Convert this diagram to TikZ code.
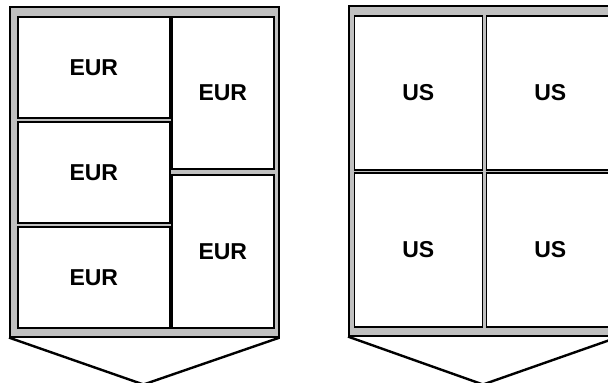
\documentclass[tikz,border=0pt]{standalone}
\usepackage{fontspec}
\usepackage{tikz}
\usetikzlibrary{positioning}
\newfontfamily\boxfont{Liberation Sans}
\definecolor{palletgray}{HTML}{C0C0C0}

\begin{document}
\begin{tikzpicture}[
  x=1pt,y=-1pt,
  pallet/.style={draw=black,fill=palletgray,line width=1.6pt,anchor=north west,inner sep=0pt},
  box/.style={draw=black,fill=white,line width=1.6pt,anchor=north west,inner sep=0pt,align=center,font=\boxfont\bfseries\fontsize{23}{23}\selectfont},
  leg/.style={draw=black,line width=2.4pt}
]
\useasboundingbox (0,0) rectangle (608,385);
\clip (0,0) rectangle (608,382);
% left pallet, EUR layout
\node[pallet,minimum width=269pt,minimum height=330pt] (eurpallet) at (9,6) {};
\node[box,minimum width=152pt,minimum height=101pt] (eurA) at (17,16) {EUR};
\node[box,minimum width=152pt,minimum height=101pt] (eurB) at (17,121) {EUR};
\node[box,minimum width=152pt,minimum height=101pt] (eurC) at (17,226) {EUR};
\node[box,minimum width=102pt,minimum height=152pt] (eurD) at (171,16) {EUR};
\node[box,minimum width=102pt,minimum height=153pt] (eurE) at (171,174) {EUR};
\coordinate (eurtip) at (143.5,384.5);
\draw[leg] (eurpallet.south west) -- (eurtip);
\draw[leg] (eurpallet.south east) -- (eurtip);
% right pallet, US layout
\node[pallet,minimum width=270pt,minimum height=330pt] (uspallet) at (348,5) {};
\node[box,minimum width=128pt,minimum height=154pt] (usA) at (353.5,15) {US};
\node[box,minimum width=128pt,minimum height=154pt] (usB) at (485.5,15) {US};
\node[box,minimum width=128pt,minimum height=154pt] (usC) at (353.5,172) {US};
\node[box,minimum width=128pt,minimum height=154pt] (usD) at (485.5,172) {US};
\coordinate (ustip) at (483,384.5);
\draw[leg] (uspallet.south west) -- (ustip);
\draw[leg] (uspallet.south east) -- (ustip);
\end{tikzpicture}
\end{document}
